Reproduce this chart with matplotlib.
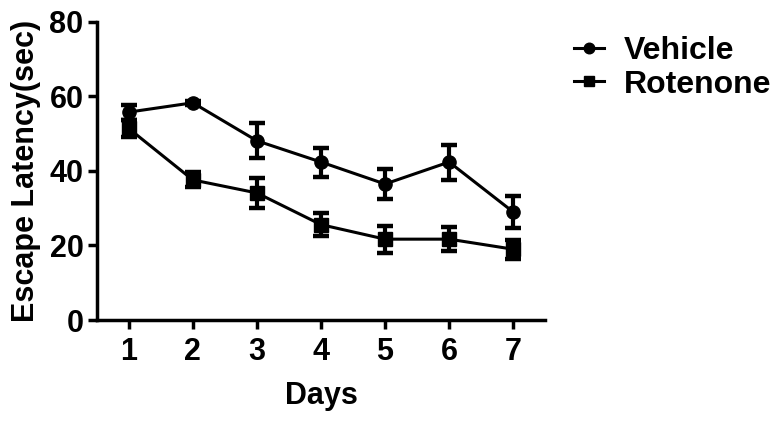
import numpy as np
import matplotlib.pyplot as plt

plt.rcParams['font.family'] = ['Liberation Sans', 'DejaVu Sans']
plt.rcParams['font.weight'] = 'bold'

# escape latency per day (sec), mean and error
days = [1, 2, 3, 4, 5, 6, 7]
vehicle = [55.8, 58.3, 48.1, 42.4, 36.5, 42.4, 29.0]
vehicle_err = [2.0, 0.6, 4.7, 3.9, 4.0, 4.7, 4.2]
rotenone = [51.4, 37.6, 34.1, 25.6, 21.7, 21.7, 19.0]
rotenone_err = [2.2, 2.0, 4.0, 3.0, 3.6, 3.2, 2.6]

fig = plt.figure(figsize=(7.8, 4.22), dpi=100)
ax = fig.add_axes([0.124, 0.2417, 0.575, 0.7063])

veh = ax.errorbar(days, vehicle, yerr=vehicle_err, color='black', marker='o', markersize=9.5,
                  linewidth=2.2, elinewidth=3, capsize=6, capthick=3.2, label='Vehicle')
rot = ax.errorbar(days, rotenone, yerr=rotenone_err, color='black', marker='s', markersize=9.5,
                  linewidth=2.2, elinewidth=3, capsize=6, capthick=3.2, label='Rotenone')

ax.set_xlim(0.5, 7.5)
ax.set_ylim(0, 80)
ax.set_xticks(days)
ax.set_yticks([0, 20, 40, 60, 80])
ax.spines['top'].set_visible(False)
ax.spines['right'].set_visible(False)
ax.spines['left'].set_linewidth(2.5)
ax.spines['bottom'].set_linewidth(2.5)
ax.tick_params(axis='both', direction='out', length=6.5, width=2.5, labelsize=22, pad=3)
ax.tick_params(axis='x', pad=6)

ax.set_xlabel('Days', fontsize=22, fontweight='bold', labelpad=10)
ax.set_ylabel('Escape Latency(sec)', fontsize=22, fontweight='bold', labelpad=6)

# legend shows only the line + marker, no error bars
ax.legend(handles=[veh[0], rot[0]], labels=['Vehicle', 'Rotenone'],
          loc='upper left', bbox_to_anchor=(1.0, 1.05), frameon=False, fontsize=23,
          handlelength=0.95, handletextpad=0.6, labelspacing=0.12, markerscale=0.8)

plt.savefig('out.png', dpi=100)
